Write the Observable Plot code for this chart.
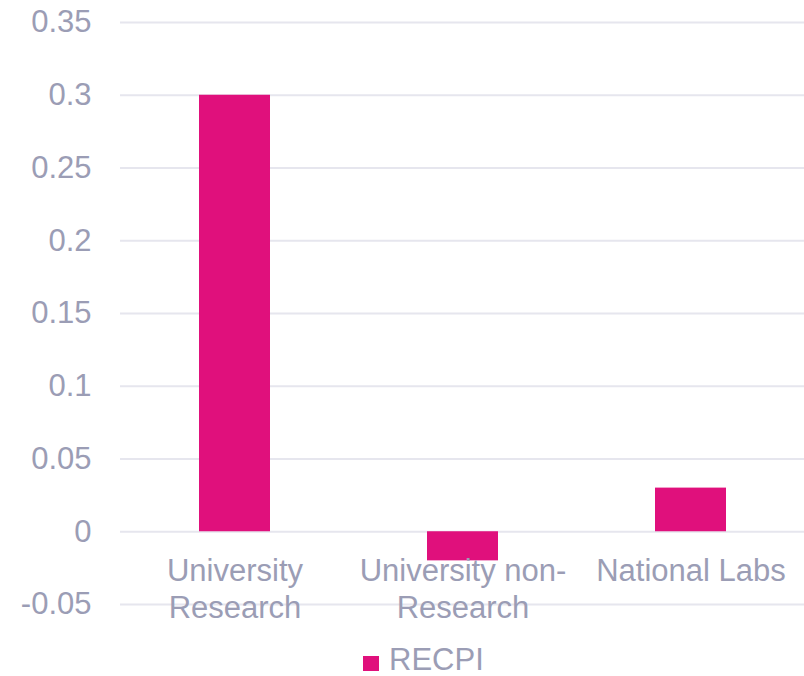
<!DOCTYPE html>
<html>
<head>
<meta charset="utf-8">
<script src="https://cdn.jsdelivr.net/npm/d3@7"></script>
<script src="https://cdn.jsdelivr.net/npm/@observablehq/plot@0.6"></script>
<style>
  html, body { margin: 0; padding: 0; background: #ffffff; }
  body { width: 804px; height: 676px; overflow: hidden; font-family: "Liberation Sans", Arial, sans-serif; }
  #legend { position: relative; height: 36px; }
  #legend .sw { position: absolute; left: 363px; top: 16px; width: 16px; height: 15px; }
  #legend .lb { position: absolute; left: 389px; top: 4px; font-size: 31px; line-height: 31px; color: #9b9db5; }
</style>
</head>
<body>
<div id="chart"></div>
<div id="legend"><div class="sw"></div><div class="lb"></div></div>
<script>
const categories = ["University\nResearch", "University non-\nResearch", "National Labs"];
const seriesName = "RECPI";
const recpi = [0.30, -0.02, 0.03];
const yTicks = [-0.05, 0, 0.05, 0.1, 0.15, 0.2, 0.25, 0.3, 0.35];
const yTickLabels = ["-0.05", "0", "0.05", "0.1", "0.15", "0.2", "0.25", "0.3", "0.35"];

const barColor = "#e0107c";
const textColor = "#9b9db5";

const data = categories.map((c, i) => ({category: c, value: recpi[i]}));

const chart = Plot.plot({
  width: 804,
  height: 640,
  marginLeft: 120,
  marginRight: 0,
  marginTop: 22,
  marginBottom: 36,
  style: {fontFamily: "'Liberation Sans', Arial, sans-serif", background: "#ffffff"},
  x: {domain: categories, paddingInner: 0.69, paddingOuter: 0.345, axis: null},
  y: {domain: [-0.05, 0.35], axis: null},
  marks: [
    Plot.gridY(yTicks, {stroke: "#e6e6ee", strokeOpacity: 1, strokeWidth: 2}),
    Plot.barY(data, {x: "category", y: "value", fill: barColor}),
    Plot.axisY(yTicks, {
      label: null, tickSize: 0, tickPadding: 29, fontSize: 31, fill: textColor,
      tickFormat: d => yTickLabels[yTicks.indexOf(d)]
    }),
    Plot.text(data, {
      x: "category", y: () => 0, text: "category",
      lineAnchor: "top", dy: 22, fontSize: 31, lineHeight: 1.22, fill: textColor
    })
  ]
});
document.getElementById("chart").appendChild(chart);
document.querySelector("#legend .sw").style.background = barColor;
document.querySelector("#legend .lb").textContent = seriesName;
</script>
</body>
</html>
